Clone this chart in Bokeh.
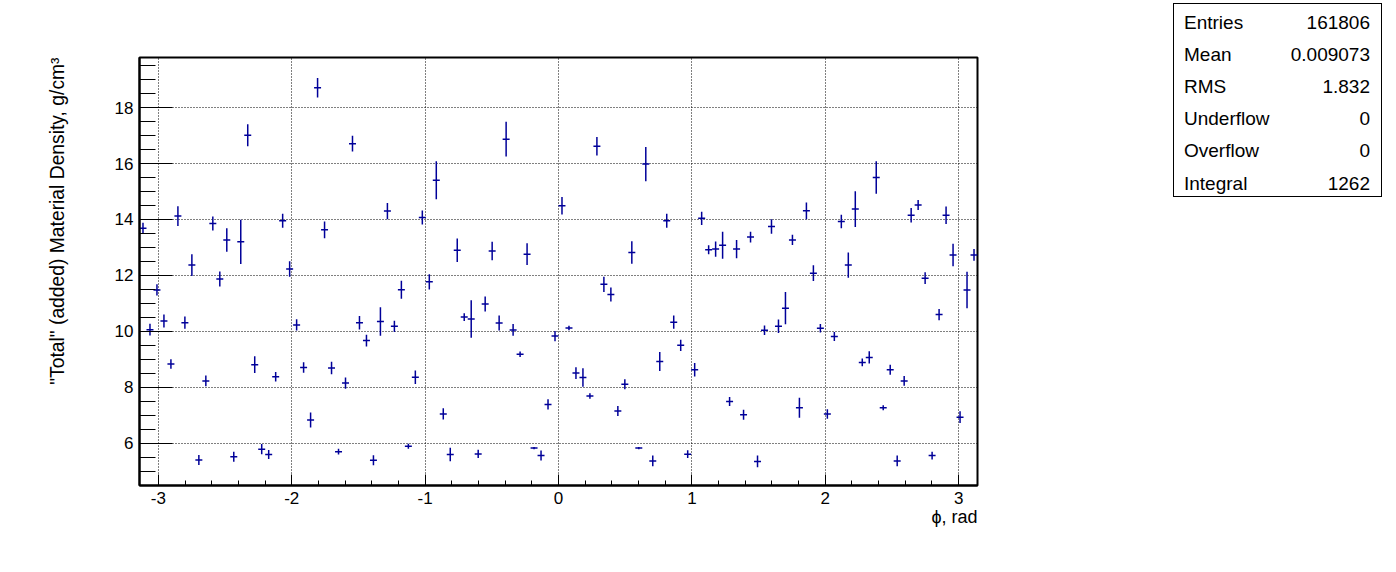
import numpy as np
from bokeh.plotting import figure
from bokeh.models import Range1d, FixedTicker, ColumnDataSource, Div, Title
from bokeh.layouts import row
from bokeh.embed import file_html
from bokeh.resources import INLINE

# ---------------- data ----------------
phi_min, phi_max, n_bins = -np.pi, np.pi, 120

density = [13.69, 10.06, 11.48, 10.37, 8.83, 14.12, 10.31, 12.37, 5.40, 8.23,
           13.86, 11.87, 13.27, 5.52, 13.20, 17.01, 8.81, 5.79, 5.60, 8.38,
           13.95, 12.23, 10.23, 8.71, 6.83, 18.71, 13.63, 8.69, 5.70, 8.15,
           16.71, 10.31, 9.67, 5.39, 10.35, 14.30, 10.18, 11.49, 5.89, 8.36,
           14.07, 11.77, 15.40, 7.05, 5.60, 12.90, 10.51, 10.44, 5.62, 10.98,
           12.87, 10.30, 16.87, 10.05, 9.18, 12.76, 5.83, 5.56, 7.39, 9.83,
           14.49, 10.12, 8.51, 8.35, 7.69, 16.62, 11.68, 11.32, 7.15, 8.11,
           12.82, 5.83, 15.98, 5.37, 8.92, 13.95, 10.33, 9.50, 5.61, 8.63,
           14.04, 12.92, 12.94, 13.08, 7.49, 12.94, 7.02, 13.37, 5.35, 10.04,
           13.75, 10.18, 10.83, 13.27, 7.27, 14.31, 12.08, 10.11, 7.05, 9.82,
           13.93, 12.37, 14.37, 8.89, 9.07, 15.50, 7.27, 8.63, 5.37, 8.23,
           14.15, 14.52, 11.90, 5.56, 10.60, 14.15, 12.73, 6.93, 11.48, 12.73]

errors = [0.19, 0.21, 0.20, 0.23, 0.17, 0.35, 0.22, 0.39, 0.18, 0.19,
          0.25, 0.27, 0.42, 0.18, 0.79, 0.39, 0.30, 0.18, 0.16, 0.17,
          0.25, 0.28, 0.20, 0.19, 0.27, 0.35, 0.30, 0.22, 0.10, 0.20,
          0.28, 0.24, 0.21, 0.18, 0.51, 0.29, 0.20, 0.32, 0.09, 0.24,
          0.25, 0.27, 0.68, 0.20, 0.24, 0.42, 0.14, 0.67, 0.15, 0.27,
          0.33, 0.27, 0.62, 0.21, 0.10, 0.39, 0.04, 0.18, 0.18, 0.18,
          0.31, 0.08, 0.21, 0.33, 0.10, 0.33, 0.27, 0.25, 0.18, 0.18,
          0.40, 0.04, 0.61, 0.19, 0.34, 0.25, 0.24, 0.20, 0.14, 0.24,
          0.24, 0.16, 0.27, 0.48, 0.16, 0.33, 0.18, 0.19, 0.21, 0.17,
          0.26, 0.24, 0.58, 0.18, 0.36, 0.30, 0.28, 0.15, 0.17, 0.16,
          0.24, 0.45, 0.64, 0.14, 0.22, 0.58, 0.09, 0.18, 0.19, 0.17,
          0.26, 0.18, 0.21, 0.14, 0.20, 0.31, 0.40, 0.21, 0.65, 0.21]

x_ticks = [-3, -2, -1, 0, 1, 2, 3]
y_ticks = [6, 8, 10, 12, 14, 16, 18]

stat_names = ["Entries", "Mean", "RMS", "Underflow", "Overflow", "Integral"]
stat_values = ["161806", "0.009073", "1.832", "0", "0", "1262"]

x_title = "\u03d5, rad"
y_title = "\"Total\" (added) Material Density, g/cm\u00b3"

# ---------------- derived (bin geometry) ----------------
edges = np.linspace(phi_min, phi_max, n_bins + 1)
centers = 0.5 * (edges[:-1] + edges[1:])
dens = np.array(density)
err = np.array(errors)
src = ColumnDataSource(dict(x=centers, lo=edges[:-1], hi=edges[1:],
                            y=dens, ylo=dens - err, yhi=dens + err))

FONT = "Liberation Sans"
COL = "#000099"
y_lo, y_hi = 4.49, 19.79

p = figure(width=1160, height=570, x_range=Range1d(phi_min, phi_max),
           y_range=Range1d(y_lo, y_hi), output_backend="svg",
           toolbar_location=None, min_border_left=139, min_border_right=183,
           min_border_top=57, min_border_bottom=85)
p.background_fill_color = "white"
p.border_fill_color = "white"
p.outline_line_color = "black"
p.outline_line_width = 2

p.segment(x0="lo", x1="hi", y0="y", y1="y", source=src, line_color=COL, line_width=1.5)
p.segment(x0="x", x1="x", y0="ylo", y1="yhi", source=src, line_color=COL, line_width=1.5)

p.xaxis.ticker = FixedTicker(ticks=x_ticks,
                             minor_ticks=[round(v, 1) for v in np.arange(-3.0, 3.01, 0.2)])
p.yaxis.ticker = FixedTicker(ticks=y_ticks,
                             minor_ticks=[round(v, 1) for v in np.arange(5.0, 19.6, 0.5)])
p.xaxis.major_label_overrides = {t: str(t) for t in x_ticks}
p.yaxis.major_label_overrides = {t: str(t) for t in y_ticks}

for ax, tin, mtin in ((p.xaxis, 11, 5), (p.yaxis, 33, 16)):
    ax.major_tick_in = tin
    ax.major_tick_out = 0
    ax.minor_tick_in = mtin
    ax.minor_tick_out = 0
    ax.axis_line_width = 2
    ax.axis_line_color = "black"
    ax.major_tick_line_color = "black"
    ax.minor_tick_line_color = "black"
    ax.major_label_text_font = FONT
    ax.major_label_text_font_size = "17px"
    ax.major_label_text_color = "black"
    ax.major_label_standoff = 6

for g in (p.xgrid, p.ygrid):
    g.grid_line_color = "black"
    g.grid_line_dash = "1 2"
    g.grid_line_width = 1

p.add_layout(Title(text=x_title, align="right", vertical_align="top", standoff=0,
                   text_font=FONT, text_font_size="18px", text_font_style="normal",
                   text_color="black"), "below")
p.add_layout(Title(text=y_title, align="right", vertical_align="middle", standoff=86,
                   text_font=FONT, text_font_size="19.3px", text_font_style="normal",
                   text_color="black"), "left")

# ---------------- stats box ----------------
rows_html = []
for k, (nm, vl) in enumerate(zip(stat_names, stat_values)):
    top = 19 + 32.1 * k - 12
    rows_html.append(
        f'<div style="position:absolute;left:10px;right:11px;top:{top:.1f}px;height:24px;'
        f'line-height:24px;display:flex;justify-content:space-between;">'
        f'<span>{nm}</span><span>{vl}</span></div>')
box_html = ('<div style="position:relative;margin-top:3px;margin-left:13px;width:209px;'
            'height:194px;border:1px solid black;box-sizing:border-box;'
            f"font-family:'{FONT}';font-size:19px;color:black;background:white;\">"
            + "".join(rows_html) + "</div>")
stats = Div(text=box_html, width=236, height=220, margin=(0, 0, 0, 0))

layout = row(p, stats)
open("out.html", "w").write(file_html(layout, INLINE))
